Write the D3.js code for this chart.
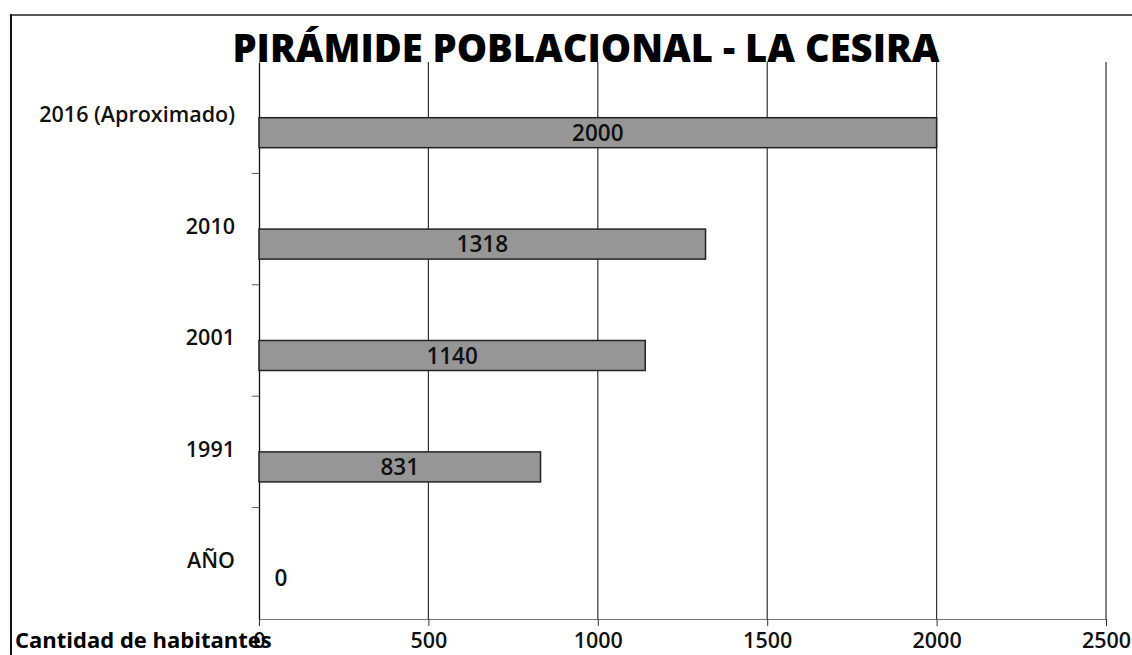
<!DOCTYPE html>
<html><head><meta charset="utf-8">
<script src="https://cdn.jsdelivr.net/npm/d3@7"></script>
<style>body{margin:0;background:#fff}svg{display:block}</style>
</head><body>
<svg id="c" width="1132" height="655"></svg>
<script>
const categories = ["2016 (Aproximado)", "2010", "2001", "1991", "AÑO"];
const values = [2000, 1318, 1140, 831, 0];
const xTicks = [0, 500, 1000, 1500, 2000, 2500];
const title = "PIRÁMIDE POBLACIONAL - LA CESIRA";
const axisTitle = "Cantidad de habitantes";

const svg = d3.select("#c");
const font = "'Open Sans', Lato, sans-serif";
const L = 259, R = 1106, T = 62, B = 619;

const x = d3.scaleLinear().domain([0, 2500]).range([L, R]);
const y = d3.scaleBand().domain(categories).range([T, B]).padding(0);

// outer frame
svg.append("line").attr("x1", 11).attr("x2", 11).attr("y1", 14).attr("y2", 655).attr("stroke", "#111").attr("stroke-width", 2);
svg.append("line").attr("x1", 10).attr("x2", 1132).attr("y1", 15).attr("y2", 15).attr("stroke", "#222").attr("stroke-width", 1.5);

// gridlines
svg.append("g").selectAll("line").data(xTicks.filter(d => d > 0)).join("line")
  .attr("x1", d => x(d)).attr("x2", d => x(d)).attr("y1", T).attr("y2", B)
  .attr("stroke", "#333").attr("stroke-width", 1.2);

// bottom axis
const xAxis = d3.axisBottom(x).tickValues(xTicks).tickSize(7).tickFormat(d3.format("d"));
const gx = svg.append("g").attr("transform", `translate(0,${B})`).call(xAxis);
gx.select(".domain").attr("stroke", "#777").attr("stroke-width", 1.2);
gx.selectAll(".tick line").attr("stroke", "#333");
gx.selectAll(".tick text").attr("font-family", font).attr("font-weight", 600).attr("font-size", 21.5)
  .attr("fill", "#111").attr("y", 21).attr("dy", "0.35em");

// left axis
const yAxis = d3.axisLeft(y).tickSize(0).tickPadding(24);
const gy = svg.append("g").attr("transform", `translate(${L},0)`).call(yAxis);
gy.select(".domain").attr("stroke", "#111").attr("stroke-width", 1.3);
gy.selectAll(".tick text").attr("font-family", font).attr("font-weight", 600).attr("font-size", 21.5)
  .attr("fill", "#111").attr("dy", "0.22em");
// boundary ticks
svg.append("g").selectAll("line").data(categories.slice(1)).join("line")
  .attr("x1", L - 7).attr("x2", L).attr("y1", d => y(d)).attr("y2", d => y(d))
  .attr("stroke", "#555");

// bars
const barH = 30;
svg.append("g").selectAll("rect").data(values).join("rect")
  .attr("x", x(0)).attr("y", (d, i) => y(categories[i]) + y.bandwidth() / 2)
  .attr("width", d => x(d) - x(0)).attr("height", barH)
  .attr("fill", "#969696").attr("stroke", d => d > 0 ? "#222" : "none").attr("stroke-width", 1.5);

// data labels
svg.append("g").selectAll("text").data(values).join("text")
  .attr("x", d => Math.max((x(0) + x(d)) / 2, x(0) + 22))
  .attr("y", (d, i) => y(categories[i]) + y.bandwidth() / 2 + barH / 2)
  .attr("dy", "0.36em").attr("text-anchor", "middle")
  .attr("font-family", font).attr("font-weight", 600).attr("font-size", 22.5).attr("fill", "#111")
  .text(d => d);

// title
svg.append("text").attr("x", 586).attr("y", 62).attr("text-anchor", "middle")
  .attr("font-family", font).attr("font-weight", 800).attr("font-size", 38)
  .attr("textLength", 707).attr("lengthAdjust", "spacingAndGlyphs")
  .attr("fill", "#000").text(title);

// axis title
svg.append("text").attr("x", 15).attr("y", 648)
  .attr("font-family", font).attr("font-weight", "bold").attr("font-size", 22)
  .attr("fill", "#000").text(axisTitle);
</script>
</body></html>
